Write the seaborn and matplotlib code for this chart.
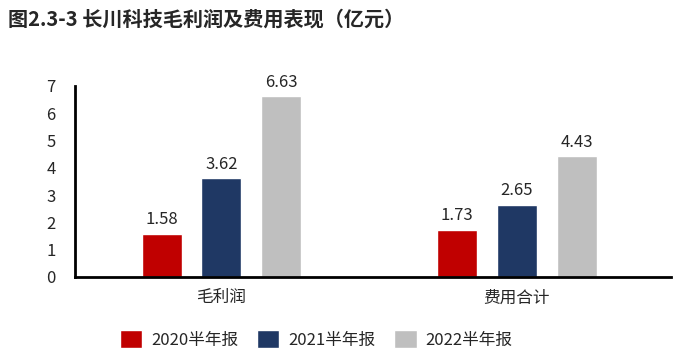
import pandas as pd
import matplotlib.pyplot as plt
import seaborn as sns

# Chart data
categories = ['毛利润', '费用合计']
periods = ['2020半年报', '2021半年报', '2022半年报']
h1_2020 = [1.58, 1.73]
h1_2021 = [3.62, 2.65]
h1_2022 = [6.63, 4.43]

colors = ['#C00000', '#1F3864', '#BFBFBF']

df = pd.DataFrame({
    'category': categories * 3,
    'period': [periods[0]] * 2 + [periods[1]] * 2 + [periods[2]] * 2,
    'value': h1_2020 + h1_2021 + h1_2022,
})

sns.set_style('white')
plt.rcParams['font.family'] = ['Noto Sans CJK SC', 'DejaVu Sans']

fig = plt.figure(figsize=(6.73, 3.51), dpi=100)
ax = fig.add_axes([0.1115, 0.211, 0.885, 0.544])

sns.barplot(data=df, x='category', y='value', hue='period', palette=colors,
            width=0.606, gap=0.33, saturation=1, ax=ax)

for c in ax.containers:
    ax.bar_label(c, fmt='%.2f', padding=4, fontsize=12)

ax.set_xlim(-0.495, 1.52)
ax.set_ylim(0, 7)
ax.set_yticks(range(0, 8))
ax.set_xlabel('')
ax.set_ylabel('')
ax.tick_params(axis='both', length=0, labelsize=12)
ax.tick_params(axis='x', pad=9)
ax.tick_params(axis='y', pad=14)

for side in ['top', 'right']:
    ax.spines[side].set_visible(False)
for side in ['left', 'bottom']:
    ax.spines[side].set_color('black')
    ax.spines[side].set_linewidth(2)

ax.legend(loc='center', bbox_to_anchor=(0.405, -0.325), ncol=3, frameon=False,
          fontsize=12, handlelength=1.35, handleheight=1.35, columnspacing=1.1,
          handletextpad=0.55)

fig.text(0.012, 0.945, '图2.3-3 长川科技毛利润及费用表现（亿元）', fontsize=14.5,
         fontweight='bold', ha='left', va='center')

plt.savefig('out.png', dpi=100)
